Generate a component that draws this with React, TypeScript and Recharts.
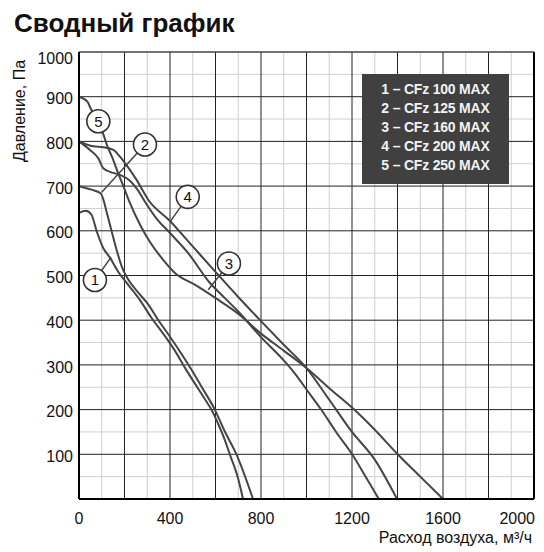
import React from 'react';
import {
  LineChart,
  Line,
  XAxis,
  YAxis,
  CartesianGrid,
  ReferenceLine,
  ReferenceDot,
  Legend,
} from 'recharts';

const FONT = '"Liberation Sans", Arial, Helvetica, sans-serif';

// ---- Data (airflow m³/h, pressure Pa) ----
const cfz100Flow = [0, 30, 55, 77, 107, 136, 173, 218, 268, 319, 370, 420, 470, 520, 560, 582, 610, 635, 663, 700, 721];
const cfz100Pres = [640, 645, 636, 600, 561, 540, 508, 478, 445, 405, 370, 333, 290, 250, 218, 200, 170, 140, 100, 45, 0];

const cfz125Flow = [0, 55, 95, 110, 121, 144, 166, 188, 215, 260, 300, 349, 400, 450, 490, 540, 597, 640, 692, 765];
const cfz125Pres = [700, 692, 684, 665, 643, 598, 556, 520, 492, 462, 438, 400, 363, 325, 293, 250, 200, 152, 100, 0];

const cfz160Flow = [0, 48, 85, 107, 136, 180, 224, 260, 290, 340, 400, 480, 571, 640, 701, 800, 900, 950, 1000, 1066, 1130, 1202, 1260, 1318];
const cfz160Pres = [800, 781, 762, 740, 732, 725, 712, 690, 665, 628, 595, 550, 486, 450, 419, 362, 310, 280, 245, 199, 150, 99, 50, 0];

const cfz200Flow = [0, 63, 107, 151, 180, 209, 253, 305, 400, 500, 600, 700, 800, 900, 1000, 1100, 1200, 1300, 1398];
const cfz200Pres = [800, 789, 787, 781, 766, 747, 714, 669, 622, 565, 508, 452, 398, 345, 293, 222, 150, 88, 0];

const cfz250Flow = [0, 37, 51, 80, 103, 125, 147, 169, 195, 220, 270, 312, 370, 423, 511, 599, 701, 800, 900, 1000, 1100, 1212, 1300, 1403, 1500, 1600];
const cfz250Pres = [900, 889, 874, 848, 822, 789, 763, 733, 700, 667, 612, 575, 535, 505, 479, 450, 414, 370, 332, 293, 248, 199, 155, 99, 50, 0];

const seriesNames = ['1 – CFz 100 MAX', '2 – CFz 125 MAX', '3 – CFz 160 MAX', '4 – CFz 200 MAX', '5 – CFz 250 MAX'];

// callout circles (data units) and leader end points
const calloutLabels = ['1', '2', '3', '4', '5'];
const calloutFlow = [70, 290, 659, 478, 85];
const calloutPres = [490, 793, 527, 676, 845];
const leaderFlow = [141, 100, 568, 400, null];
const leaderPres = [541, 686, 468, 620, null];

// axes
const xTicks = [0, 400, 800, 1200, 1600, 2000];
const yTicks = [100, 200, 300, 400, 500, 600, 700, 800, 900, 1000];
const xMajorGrid = [200, 400, 600, 800, 1000, 1200, 1400, 1600, 1800];
const xMinorGrid = [100, 300, 500, 700, 900, 1100, 1300, 1500, 1700, 1900];
const yMajorGrid = [100, 200, 300, 400, 500, 600, 700, 800, 900];
const yMinorGrid = [50, 150, 250, 350, 450, 550, 650, 750, 850, 950];

const titleText = 'Сводный график';
const xTitle = 'Расход воздуха, м³/ч';
const yTitle = 'Давление, Па';

const zip = (f: number[], p: number[]) => f.map((q, i) => ({ q, p: p[i] }));
const series = [
  zip(cfz100Flow, cfz100Pres),
  zip(cfz125Flow, cfz125Pres),
  zip(cfz160Flow, cfz160Pres),
  zip(cfz200Flow, cfz200Pres),
  zip(cfz250Flow, cfz250Pres),
];

const YTick = (props: any) => {
  const { x, y, payload } = props;
  const extra = payload.value === 1000 ? 6 : 2;
  return (
    <text x={x + 1} y={y + extra} dy="0.355em" textAnchor="end" fontFamily={FONT} fontSize={16} fill="#111">
      {payload.value}
    </text>
  );
};

const XTick = (props: any) => {
  const { x, y, payload } = props;
  const isLast = payload.value === 2000;
  return (
    <text x={isLast ? x + 1 : x} y={y + 17} textAnchor={isLast ? 'end' : 'middle'} fontFamily={FONT} fontSize={16} fill="#111">
      {payload.value}
    </text>
  );
};

const LegendBox = (props: any) => {
  const payload = props.payload || [];
  return (
    <div
      style={{
        width: 147,
        height: 110,
        background: '#404040',
        boxSizing: 'border-box',
        paddingTop: 6,
        fontFamily: FONT,
        fontWeight: 'bold',
        fontSize: 14,
        lineHeight: '19px',
        color: '#f2f2f2',
        textAlign: 'center',
        letterSpacing: -0.2,
      }}
    >
      {payload.map((e: any) => (
        <div key={e.value}>{e.value}</div>
      ))}
    </div>
  );
};

export default function App() {
  return (
    <div style={{ position: 'absolute', left: 0, top: 0, width: 544, height: 552, background: '#fff' }}>
      <div
        style={{
          position: 'absolute',
          left: 14,
          top: 10,
          fontFamily: FONT,
          fontWeight: 'bold',
          fontSize: 26,
          lineHeight: '26px',
          color: '#111',
          whiteSpace: 'nowrap',
        }}
      >
        {titleText}
      </div>
      <LineChart width={544} height={552} margin={{ top: 52, right: 10, bottom: 0, left: 0 }}>
        <CartesianGrid
          stroke="#cfcfcf"
          strokeWidth={1}
          horizontalValues={yMinorGrid}
          verticalValues={xMinorGrid}
        />
        <CartesianGrid
          stroke="#222"
          strokeWidth={1}
          horizontalValues={yMajorGrid}
          verticalValues={xMajorGrid}
        />
        <XAxis
          type="number"
          dataKey="q"
          domain={[0, 2000]}
          ticks={xTicks}
          height={53}
          tickLine={false}
          axisLine={{ stroke: '#000', strokeWidth: 2 }}
          tick={<XTick />}
          interval={0}
          allowDataOverflow
          label={{
            content: () => (
              <text x={532} y={543} textAnchor="end" fontFamily={FONT} fontSize={16} fill="#111">
                {xTitle}
              </text>
            ),
          }}
        />
        <YAxis
          type="number"
          dataKey="p"
          domain={[0, 1000]}
          ticks={yTicks}
          width={79}
          tickLine={false}
          tickMargin={1}
          axisLine={{ stroke: '#000', strokeWidth: 2 }}
          tick={<YTick />}
          interval={0}
          allowDataOverflow
          label={{
            content: () => (
              <text
                x={25}
                y={162}
                transform="rotate(-90 25 162)"
                textAnchor="start"
                fontFamily={FONT}
                fontSize={16}
                fill="#111"
              >
                {yTitle}
              </text>
            ),
          }}
        />
        <ReferenceLine x={2000} stroke="#000" strokeWidth={2} />
        <ReferenceLine y={1000} stroke="#444" strokeWidth={1.5} />
        {series.map((d, i) => (
          <Line
            key={seriesNames[i]}
            data={d}
            dataKey="p"
            name={seriesNames[i]}
            type="monotone"
            stroke="#454545"
            strokeWidth={2}
            dot={false}
            activeDot={false}
            isAnimationActive={false}
          />
        ))}
        {calloutLabels.map((lab, i) =>
          leaderFlow[i] == null ? null : (
            <ReferenceLine
              key={'ld' + lab}
              segment={[
                { x: calloutFlow[i], y: calloutPres[i] },
                { x: leaderFlow[i] as number, y: leaderPres[i] as number },
              ]}
              stroke="#454545"
              strokeWidth={1.5}
            />
          )
        )}
        {calloutLabels.map((lab, i) => (
          <ReferenceDot
            key={'cd' + lab}
            x={calloutFlow[i]}
            y={calloutPres[i]}
            r={11.5}
            fill="#fff"
            stroke="#333"
            strokeWidth={1.6}
            label={{ value: lab, position: 'center', fill: '#111', fontSize: 15, fontFamily: FONT }}
          />
        ))}
        <Legend
          layout="horizontal"
          verticalAlign="middle"
          align="center"
          content={<LegendBox />}
          wrapperStyle={{ position: 'absolute', left: 362, top: 74, width: 147, height: 110 }}
        />
      </LineChart>
    </div>
  );
}
